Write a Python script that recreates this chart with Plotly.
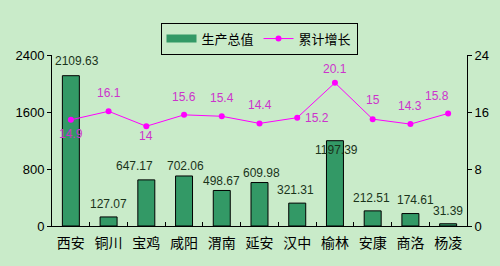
import plotly.graph_objects as go

categories = ["西安", "铜川", "宝鸡", "咸阳", "渭南", "延安", "汉中", "榆林", "安康", "商洛", "杨凌"]
output_values = [2109.63, 127.07, 647.17, 702.06, 498.67, 609.98, 321.31, 1197.39, 212.51, 174.61, 31.39]
growth_values = [14.9, 16.1, 14, 15.6, 15.4, 14.4, 15.2, 20.1, 15, 14.3, 15.8]
left_ticks = [0, 800, 1600, 2400]
right_ticks = [0, 8, 16, 24]

# label offsets (pixels) for data labels
bar_label_shift = [(6, 15), (0, 13), (-12, 14), (1, 10), (0, 9), (2, 10), (-2, 13), (2, -9), (-1, 13), (5, 14), (0, 13)]
line_label_shift = [(0, -14), (0, 18), (0, -10), (0, 18), (0, 18), (0, 18), (20, 0), (0, 14), (0, 19), (0, 18), (-11, 17)]

BG = "#C9EBC9"
FONT = "Arial, Liberation Sans, Noto Sans CJK SC, sans-serif"

fig = go.Figure()
fig.add_trace(go.Bar(
    x=categories, y=output_values, name="生产总值",
    marker=dict(color="#339966", line=dict(color="black", width=1)),
    yaxis="y", showlegend=False,
))
# legend-only entry giving the bar series a wide rectangular key
fig.add_trace(go.Scatter(
    x=[None], y=[None], name="生产总值", mode="lines",
    line=dict(color="#339966", width=8), yaxis="y",
))
fig.add_trace(go.Scatter(
    x=categories, y=growth_values, name="累计增长", mode="lines+markers",
    line=dict(color="#FF00FF", width=1),
    marker=dict(color="#FF00FF", size=6, symbol="circle"),
    yaxis="y2",
))

annotations = []
for c, v, (dx, dy) in zip(categories, output_values, bar_label_shift):
    annotations.append(dict(x=c, y=v, xref="x", yref="y", text=f"{v:.2f}",
                            showarrow=False, xshift=dx, yshift=dy,
                            font=dict(size=12, color="#1A331A", family=FONT)))
for c, v, (dx, dy) in zip(categories, growth_values, line_label_shift):
    annotations.append(dict(x=c, y=v, xref="x", yref="y2", text=f"{v:g}",
                            showarrow=False, xshift=dx, yshift=dy,
                            font=dict(size=12, color="#CC33CC", family=FONT)))

fig.update_layout(
    width=500, height=266,
    margin=dict(l=52, r=33, t=55, b=40, autoexpand=False),
    paper_bgcolor=BG, plot_bgcolor=BG,
    font=dict(family=FONT, size=13, color="black"),
    bargap=0.55,
    showlegend=True,
    legend=dict(orientation="h", xref="container", yref="container",
                x=0.518, y=0.915, xanchor="center", yanchor="top",
                bgcolor=BG, bordercolor="black", borderwidth=1,
                font=dict(size=13, family=FONT),
                tracegroupgap=0),
    xaxis=dict(type="category", showline=True, linecolor="black", linewidth=1,
               ticks="inside", tickson="boundaries", ticklen=4, tickcolor="black",
               showgrid=False, tickfont=dict(size=14), range=[-0.5, 10.5],
               ticklabelstandoff=4),
    yaxis=dict(range=[0, 2400], tickvals=left_ticks, showline=True, linecolor="black",
               ticks="outside", ticklen=4, tickcolor="black", showgrid=False, zeroline=False,
               tickfont=dict(size=13)),
    yaxis2=dict(range=[0, 24], tickvals=right_ticks, overlaying="y", side="right",
                showline=True, linecolor="black", ticks="outside", ticklen=4,
                tickcolor="black", showgrid=False, zeroline=False, tickfont=dict(size=13)),
    annotations=annotations,
)

fig.write_html("out.html")
